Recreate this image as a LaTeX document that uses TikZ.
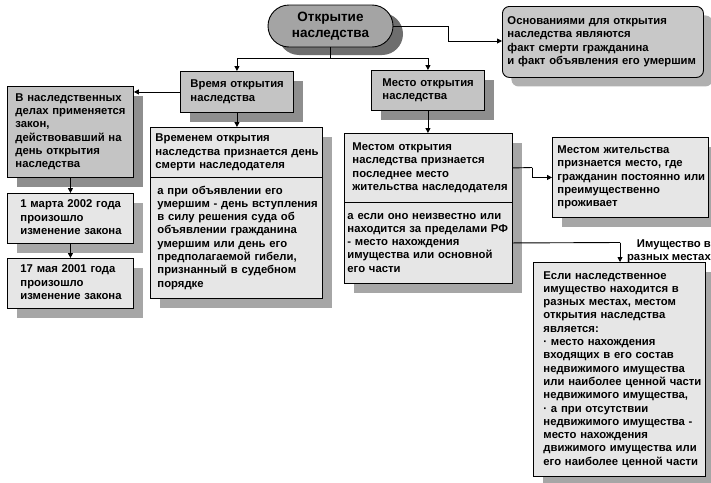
\documentclass[tikz,border=0pt]{standalone}
\usepackage{fontspec}
\setmainfont{Liberation Sans}
\usetikzlibrary{arrows.meta,shapes.misc,shadows}
\definecolor{topfill}{HTML}{A4A4A4}
\definecolor{topshadow}{HTML}{6E6E6E}
\definecolor{osnfill}{HTML}{C8C8C8}
\definecolor{osnshadow}{HTML}{B0B0B0}
\definecolor{grayfill}{HTML}{C4C4C4}
\definecolor{grayshadow}{HTML}{8E8E8E}
\definecolor{dotfill}{HTML}{E6E6E6}
\definecolor{dotshadow}{HTML}{A6A6A6}
\newcommand\boxlines[1]{\noindent\begin{tabular}{@{}l@{}}#1\end{tabular}}
\begin{document}
\begin{tikzpicture}[x=1pt,y=-1pt,
  every node/.style={font=\bfseries\fontsize{11.3}{13.3}\selectfont},
  base/.style={draw=black, line width=0.9pt, anchor=north west, align=left, inner ysep=0pt},
  graybox/.style={base, fill=grayfill, general shadow={fill=grayshadow, shadow xshift=10pt, shadow yshift=-10pt}},
  dotbox/.style={base, fill=dotfill, general shadow={fill=dotshadow, shadow xshift=10pt, shadow yshift=-10pt}},
  sz/.style n args={4}{minimum width=#1pt, minimum height=#2pt, inner xsep=#3pt, text width=#4pt},
  arr/.style={-{Triangle[length=5pt,width=5pt]}, line width=0.9pt},
  ln/.style={line width=0.9pt}]
\useasboundingbox[fill=white] (0,0) rectangle (711,482);

% top node
\node[draw=black, line width=0.9pt, rounded rectangle, fill=topfill,
  minimum width=125pt, minimum height=42pt, inner sep=0pt, align=center,
  general shadow={fill=topshadow, shadow xshift=10pt, shadow yshift=-8pt},
  font=\bfseries\fontsize{13.5}{15.5}\selectfont] (top) at (330.5,26) {Открытие\\наследства};

% grounds
\node[base, rounded corners=7pt, fill=osnfill, sz={201}{71}{5}{191},
  general shadow={fill=osnshadow, shadow xshift=9pt, shadow yshift=-9pt}] (osn) at (502,6)
  {\boxlines{Основаниями для открытия\\наследства являются\\факт смерти гражданина\\и факт объявления его умершим}};

% second level
\node[graybox, sz={113}{41}{10}{93}] (vremya) at (180,71) {\boxlines{Время открытия\\наследства}};
\node[graybox, sz={113}{40}{11}{91}] (mesto) at (371,70) {\boxlines{Место открытия\\наследства}};

% left column
\node[graybox, sz={126}{91}{8}{110}] (vnasl) at (7,86)
  {\boxlines{В наследственных\\делах применяется\\закон,\\действовавший на\\день открытия\\наследства}};
\node[dotbox, sz={126}{50}{13}{100}] (mart) at (7,193) {\boxlines{1 марта 2002 года\\произошло\\изменение закона}};
\node[dotbox, sz={126}{50}{13}{100}] (may) at (7,258) {\boxlines{17 мая 2001 года\\произошло\\изменение закона}};

% time of opening
\node[dotbox, sz={172}{50}{5}{162}] (vrA) at (150,127)
  {\boxlines{Временем открытия\\наследства признается день\\смерти наследодателя}};
\node[dotbox, sz={172}{121}{7}{158}] (vrB) at (150,177)
  {\boxlines{а при объявлении его\\умершим - день вступления\\в силу решения суда об\\объявлении гражданина\\умершим или день его\\предполагаемой гибели,\\признанный в судебном\\порядке}};

% place of opening
\node[dotbox, sz={168}{69}{8}{152}] (meA) at (344,133)
  {\boxlines{Местом открытия\\наследства признается\\последнее место\\жительства наследодателя}};
\node[dotbox, sz={168}{81}{3}{162}] (meB) at (344,202)
  {\boxlines{а если оно неизвестно или\\находится за пределами РФ\\- место нахождения\\имущества или основной\\его части}};

\node[dotbox, sz={156}{80}{5}{146}] (zhit) at (552,137)
  {\boxlines{Местом жительства\\признается место, где\\гражданин постоянно или\\преимущественно\\проживает}};

\node[dotbox, sz={172}{214}{10}{152}] (big) at (533,262)
  {\boxlines{Если наследственное\\имущество находится в\\разных местах, местом\\открытия наследства\\является:\\· место нахождения\\входящих в его состав\\недвижимого имущества\\или наиболее ценной части\\недвижимого имущества,\\· а при отсутствии\\недвижимого имущества -\\место нахождения\\движимого имущества или\\его наиболее ценной части}};

\node[anchor=north east, align=right, inner sep=0pt, font=\bfseries\fontsize{11.3}{12.5}\selectfont] (lbl) at (711,240)
  {Имущество в\\разных местах};

% connectors
\coordinate (c1) at (448,41);
\draw[ln] (top.east) -| (c1);
\draw[arr] (c1) -- (osn.west |- c1);
\coordinate (j) at (330.5,58);
\draw[ln] (top.south) -- (j);
\draw[arr] (j) -| (vremya.north);
\draw[arr] (j) -| (mesto.north);
\draw[arr] (vremya.west) -- (vremya.west -| vnasl.east);
\draw[arr] (vnasl.south) -- (mart.north);
\draw[arr] (mart.south) -- (may.north);
\draw[arr] (vremya.south) -- (vremya.south |- vrA.north);
\draw[arr] (mesto.south) -- (mesto.south |- meA.north);
\coordinate (c2) at (532,167.5);
\draw[ln] (meA.east) -- (c2);
\draw[arr] (c2) |- (zhit.west);
\coordinate (c3) at (620,242.5);
\draw[ln] (meB.east) -- (c3);
\draw[arr] (c3) -- (c3 |- big.north);
\end{tikzpicture}
\end{document}
